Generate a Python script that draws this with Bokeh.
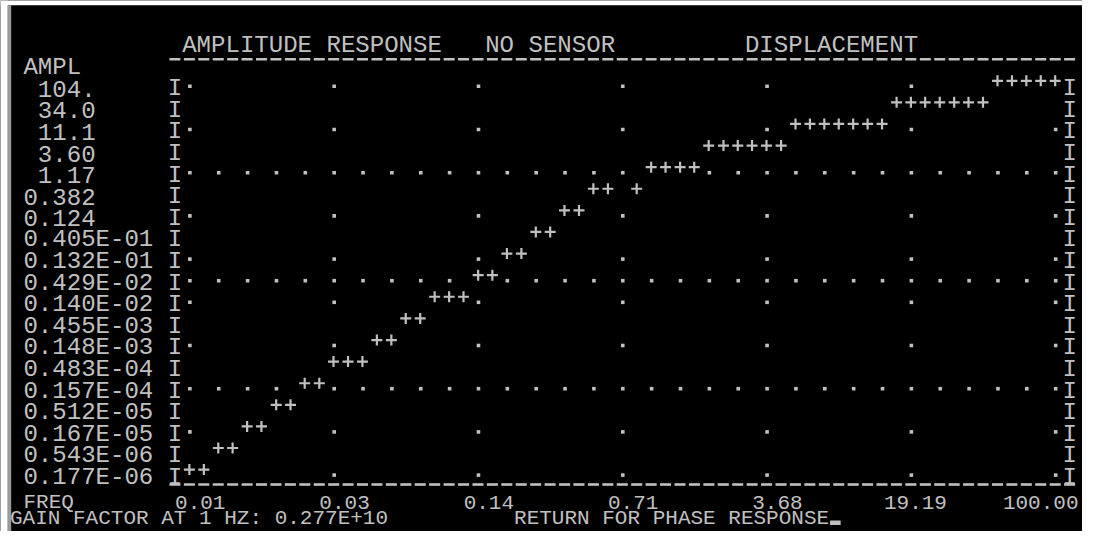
import math
from bokeh.plotting import figure
from bokeh.models import Range1d, ColumnDataSource
from bokeh.embed import file_html
from bokeh.resources import INLINE
from bokeh.core.properties import value

# ---------------- data ----------------
title_parts = ["AMPLITUDE RESPONSE", "NO SENSOR", "DISPLACEMENT"]
ampl_title = "AMPL"
freq_title = "FREQ"
ampl_labels = ["104.", "34.0", "11.1", "3.60", "1.17", "0.382", "0.124",
               "0.405E-01", "0.132E-01", "0.429E-02", "0.140E-02", "0.455E-03",
               "0.148E-03", "0.483E-04", "0.157E-04", "0.512E-05", "0.167E-05",
               "0.543E-06", "0.177E-06"]
freq_labels = ["0.01", "0.03", "0.14", "0.71", "3.68", "19.19", "100.00"]
f_min, f_max = 0.005, 100.0          # frequency span of the plot (Hz)
gain_text = "GAIN FACTOR AT 1 HZ: 0.277E+10"
prompt_text = "RETURN FOR PHASE RESPONSE"

# response curve: one '+' per frequency sample (Hz) and its amplitude
curve_freq = [0.00500, 0.00590, 0.00696, 0.00820, 0.00968, 0.0114, 0.0135, 0.0159,
              0.0187, 0.0221, 0.0260, 0.0307, 0.0362, 0.0427, 0.0504, 0.0594,
              0.0701, 0.0827, 0.0976, 0.115, 0.136, 0.160, 0.189, 0.223,
              0.263, 0.310, 0.365, 0.431, 0.508, 0.600, 0.834, 0.984,
              1.16, 1.37, 1.61, 1.90, 2.25, 2.65, 3.12, 3.68,
              4.35, 5.13, 6.05, 7.13, 8.41, 9.92, 11.7, 13.8,
              16.3, 19.2, 22.6, 26.7, 31.5, 37.1, 43.8, 51.7,
              61.0, 71.9, 84.8, 100.0]
curve_ampl = [0.177e-06, 0.177e-06, 0.543e-06, 0.543e-06, 0.167e-05, 0.167e-05,
              0.512e-05, 0.512e-05, 0.157e-04, 0.157e-04, 0.483e-04, 0.483e-04,
              0.483e-04, 0.148e-03, 0.148e-03, 0.455e-03, 0.455e-03, 0.140e-02,
              0.140e-02, 0.140e-02, 0.429e-02, 0.429e-02, 0.132e-01, 0.132e-01,
              0.405e-01, 0.405e-01, 0.124, 0.124, 0.382, 0.382, 0.382,
              1.17, 1.17, 1.17, 1.17,
              3.60, 3.60, 3.60, 3.60, 3.60, 3.60,
              11.1, 11.1, 11.1, 11.1, 11.1, 11.1, 11.1,
              34.0, 34.0, 34.0, 34.0, 34.0, 34.0, 34.0,
              104., 104., 104., 104., 104.]

# ---------------- layout (character-cell screen, picture pixels) ----------------
W, H = 1082, 531           # figure size
COL0, CW = 8.5, 14.43      # x of column 0, cell width
ROW0, RH = 15.5, 21.6      # y of row 0 centre, cell height
BL = 7.9                   # baseline below the row centre
RULE2_Y = 484.0            # bottom rule
FREQ_BASE, FOOT_BASE = 502.0, 518.0   # baselines of the two footer lines
FONT = value("Liberation Mono")
FSIZE_PX = 24.05
FOOT_PX = 21.0
FG = "#c0c0c0"
BG = "#000000"

C_FIRST, N_COLS = 12, 60   # data columns 12..72
R_FIRST, N_ROWS = 3, 18    # data rows 3..21
C_LEFT_I, C_RIGHT_I = 11, 73

log_fr = math.log10(f_max / f_min)
A_top = float(ampl_labels[0])
A_bot = float(ampl_labels[-1])
log_ar = math.log10(A_bot / A_top)


def f_at_px(X):
    c = (X - COL0) / CW - 0.5
    return f_min * 10 ** ((c - C_FIRST) / N_COLS * log_fr)


def a_at_py(Y):
    r = (Y - ROW0) / RH
    return A_top * 10 ** ((r - R_FIRST) / N_ROWS * log_ar)


def col_left(c):
    return COL0 + c * CW


def col_mid(c):
    return COL0 + (c + 0.5) * CW


def row_mid(r):
    return ROW0 + r * RH


p = figure(width=W, height=H, output_backend="svg", toolbar_location=None,
           x_axis_type="log", y_axis_type="log",
           x_axis_location=None, y_axis_location=None,
           x_range=Range1d(f_at_px(0), f_at_px(W)),
           y_range=Range1d(a_at_py(H), a_at_py(0)),
           min_border=0, min_border_left=0, min_border_right=0,
           min_border_top=0, min_border_bottom=0)
p.background_fill_color = BG
p.border_fill_color = BG
p.outline_line_color = None
p.grid.visible = False

# window edge: white margin on top / left and grey frame strip
p.quad(left=[f_at_px(0)], right=[f_at_px(W)], bottom=[a_at_py(4.7)], top=[a_at_py(0)],
       fill_color="#ffffff", line_color=None)
p.quad(left=[f_at_px(0)], right=[f_at_px(7.3)], bottom=[a_at_py(H)], top=[a_at_py(0)],
       fill_color="#ffffff", line_color=None)
p.quad(left=[f_at_px(7.3)], right=[f_at_px(10.7)], bottom=[a_at_py(H)], top=[a_at_py(4.7)],
       fill_color="#9a9a9a", line_color=None)

# ---- text items (x, baseline y, align, size) ----
items = []


def put(s, X, base_y, align="left", size=FSIZE_PX):
    items.append((s, f_at_px(X), a_at_py(base_y), align, size))


title_cols = [12, 33, 51]
for s, c in zip(title_parts, title_cols):
    put(s, col_left(c), row_mid(1) + BL)
put(ampl_title, col_left(1), row_mid(2) + BL)

for i, lab in enumerate(ampl_labels):
    r = R_FIRST + i
    put(lab, col_left(1 if len(lab) >= 5 else 2), row_mid(r) + BL)
    put("I", col_left(C_LEFT_I), row_mid(r) + BL)
    put("I", col_left(C_RIGHT_I), row_mid(r) + BL)

put(freq_title, col_left(1), FREQ_BASE, size=FOOT_PX)
for k, lab in enumerate(freq_labels):
    put(lab, min(col_left(15 + 10 * k), W - 4), FREQ_BASE, "right", size=FOOT_PX)

put(gain_text, col_left(0) + 1, FOOT_BASE, size=FOOT_PX)
put(prompt_text, col_left(35), FOOT_BASE, size=FOOT_PX)

for al in ("left", "right"):
    for sz in (FSIZE_PX, FOOT_PX):
        sel = [it for it in items if it[3] == al and it[4] == sz]
        if not sel:
            continue
        src = ColumnDataSource(dict(x=[it[1] for it in sel], y=[it[2] for it in sel],
                                    text=[it[0] for it in sel]))
        p.text(x="x", y="y", text="text", source=src, text_font=FONT,
               text_font_size=f"{sz}px", text_color=FG, text_align=al,
               text_baseline="alphabetic")

# ---- dashed rules (top and bottom) ----
sx0, sx1, sy = [], [], []
for r_y in (row_mid(2), RULE2_Y):
    for c in range(C_LEFT_I, C_RIGHT_I + 1):
        sx0.append(f_at_px(col_left(c) + 1.7))
        sx1.append(f_at_px(col_left(c + 1) - 1.7))
        sy.append(a_at_py(r_y))
p.segment(x0=sx0, x1=sx1, y0=sy, y1=sy, line_color=FG, line_width=2.6,
          line_cap="butt")

# ---- cells occupied by the curve ----
occupied = set()
for f, a in zip(curve_freq, curve_ampl):
    c = round(C_FIRST + N_COLS * math.log10(f / f_min) / log_fr)
    r = round(R_FIRST + N_ROWS * math.log10(a / A_top) / log_ar)
    occupied.add((c, r))

# ---- grid dots ----
dx, dy = [], []
for i in range(len(ampl_labels)):
    r = R_FIRST + i
    if i % 5 == 4:
        cols = range(C_FIRST, C_FIRST + N_COLS + 1, 2)
    elif i % 2 == 0:
        cols = range(C_FIRST, C_FIRST + N_COLS + 1, 10)
    else:
        cols = []
    for c in cols:
        if (c, r) in occupied:
            continue
        dx.append(f_at_px(col_mid(c) + 0.5))
        dy.append(a_at_py(row_mid(r) + 5.5))
p.scatter(x=dx, y=dy, marker="square", size=3.6, fill_color=FG, line_color=None)

# ---- response curve ----
p.scatter(x=curve_freq, y=curve_ampl, marker="cross", size=11, line_color=FG,
          line_width=2.2)

# ---- cursor (right after the prompt) ----
adv = 0.6 * FOOT_PX
cur_x = col_left(35) + len(prompt_text) * adv
p.quad(left=[f_at_px(cur_x + 1)], right=[f_at_px(cur_x + adv - 1)],
       bottom=[a_at_py(FOOT_BASE + 6.5)], top=[a_at_py(FOOT_BASE + 2)],
       fill_color=FG, line_color=None)

open("out.html", "w").write(file_html(p, INLINE))
